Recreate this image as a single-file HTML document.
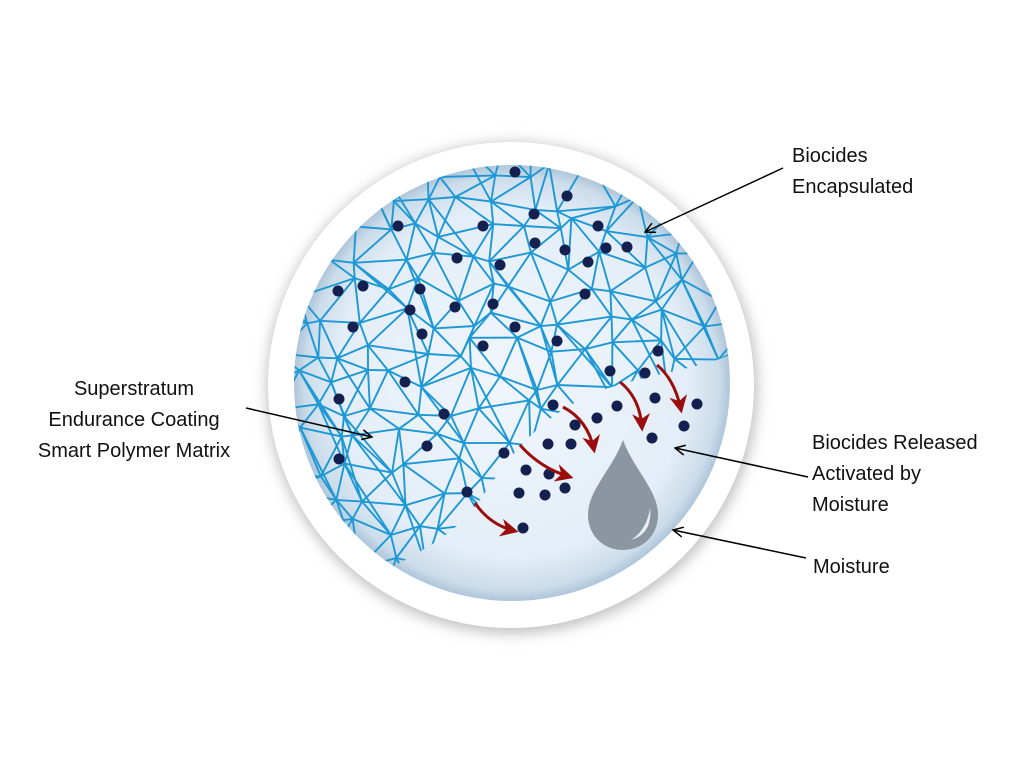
<!DOCTYPE html>
<html><head><meta charset="utf-8"><style>
html,body{margin:0;padding:0;background:#fff;}
svg{display:block}
text{font-family:"Liberation Sans",sans-serif;font-size:20px;fill:#111;}
</style></head><body>
<svg id="s" width="1024" height="768" viewBox="0 0 1024 768" xmlns="http://www.w3.org/2000/svg">
<defs>
<radialGradient id="bg" cx="0.5" cy="0.5" r="0.5">
<stop offset="0" stop-color="#f0f5fb"/><stop offset="0.8" stop-color="#e4eef8"/><stop offset="0.95" stop-color="#cbdcea"/><stop offset="1" stop-color="#aec5d9"/>
</radialGradient>
<filter id="blur" x="-20%" y="-20%" width="140%" height="140%"><feGaussianBlur stdDeviation="7"/></filter>
<clipPath id="cc"><circle cx="512" cy="383" r="218"/></clipPath>
<clipPath id="mr"><path d="M260,130 L760,130 L760,352 L730,355 C690,372 620,378 580,400 C530,425 500,470 480,500 C455,535 420,552 390,568 L260,590 Z"/></clipPath>
<marker id="ah" viewBox="0 0 12 12" refX="11" refY="6" markerWidth="12" markerHeight="12" markerUnits="userSpaceOnUse" orient="auto"><path d="M1,1 L11,6 L1,11" fill="none" stroke="#000" stroke-width="1.5"/></marker>
<marker id="rh" viewBox="0 0 10 10" refX="8" refY="5" markerWidth="18" markerHeight="18" markerUnits="userSpaceOnUse" orient="auto"><path d="M0,0 L10,5 L0,10 L3,5 Z" fill="#9b0d0d"/></marker>
</defs>
<circle cx="512" cy="388" r="245" fill="#bdbdbd" filter="url(#blur)"/>
<circle cx="511" cy="385" r="243" fill="#fff"/>
<circle cx="512" cy="383" r="218" fill="url(#bg)"/>
<g clip-path="url(#cc)"><g clip-path="url(#mr)"><g id="mesh" stroke="#1d98d4" stroke-width="1.9" fill="none"></g></g></g>
<g fill="#14204f" id="dots"></g>
<g fill="none" stroke="#9b0d0d" stroke-width="3" marker-end="url(#rh)">
<path d="M475,503 Q490,525 515,531"/>
<path d="M520,445 Q540,468 570,477"/>
<path d="M563,407 Q588,420 594,450"/>
<path d="M620,382 Q640,398 642,428"/>
<path d="M657,365 Q675,380 681,410"/>
</g>
<path d="M623,440 C612,470 588,490 588,515 C588,536 604,550 623,550 C642,550 658,536 658,515 C658,490 634,470 623,440 Z" fill="#8b96a1"/>
<path d="M650,508 C652,525 645,536 631,540 C642,533 648,522 650,508 Z" fill="#e8eef3"/>
<g stroke="#000" stroke-width="1.5" fill="none" marker-end="url(#ah)">
<line x1="783" y1="168" x2="645" y2="232"/>
<line x1="246" y1="408" x2="372" y2="437"/>
<line x1="808" y1="477" x2="675" y2="448"/>
<line x1="806" y1="558" x2="673" y2="530"/>
</g>
<text x="792" y="162">Biocides</text>
<text x="792" y="193">Encapsulated</text>
<text x="134" y="395" text-anchor="middle">Superstratum</text>
<text x="134" y="426" text-anchor="middle">Endurance Coating</text>
<text x="134" y="457" text-anchor="middle">Smart Polymer Matrix</text>
<text x="812" y="449">Biocides Released</text>
<text x="812" y="480">Activated by</text>
<text x="812" y="511">Moisture</text>
<text x="813" y="573">Moisture</text>
</svg>
<script>
(function(){
var NS="http://www.w3.org/2000/svg";
var seed=11;function r(){seed=(seed*16807)%2147483647;return seed/2147483647;}
var g=document.getElementById("mesh");
var sp=34,cols=17,rows=16,P=[];
for(var j=0;j<rows;j++){P[j]=[];for(var i=0;i<cols;i++){
P[j][i]=[262+i*sp+(j%2?sp/2:0)+(r()-0.5)*sp*0.8,140+j*sp*0.88+(r()-0.5)*sp*0.7];}}
function L(a,b){var l=document.createElementNS(NS,"line");l.setAttribute("x1",a[0].toFixed(1));l.setAttribute("y1",a[1].toFixed(1));l.setAttribute("x2",b[0].toFixed(1));l.setAttribute("y2",b[1].toFixed(1));g.appendChild(l);}
for(var j=0;j<rows;j++)for(var i=0;i<cols;i++){
var p=P[j][i];
if(i+1<cols)L(p,P[j][i+1]);
if(j+1<rows){L(p,P[j+1][i]);
var k=j%2?i+1:i-1;if(k>=0&&k<cols)L(p,P[j+1][k]);
if(r()<0.25&&i+1<cols&&j+2<rows)L(p,P[j+2][i+1]);}
}
var D=[[515,172],[567,196],[534,214],[398,226],[483,226],[598,226],[457,258],[500,265],[535,243],[565,250],[588,262],[606,248],[627,247],[338,291],[363,286],[420,289],[410,310],[455,307],[493,304],[585,294],[353,327],[422,334],[483,346],[515,327],[557,341],[658,351],[610,371],[645,373],[405,382],[339,399],[553,405],[617,406],[597,418],[655,398],[697,404],[684,426],[444,414],[427,446],[575,425],[571,444],[548,444],[652,438],[504,453],[339,459],[526,470],[549,474],[565,488],[519,493],[545,495],[467,492],[523,528]];
var dg=document.getElementById("dots");
D.forEach(function(d){var c=document.createElementNS(NS,"circle");c.setAttribute("cx",d[0]);c.setAttribute("cy",d[1]);c.setAttribute("r",5.5);dg.appendChild(c);});
})();
</script>
</body></html>
